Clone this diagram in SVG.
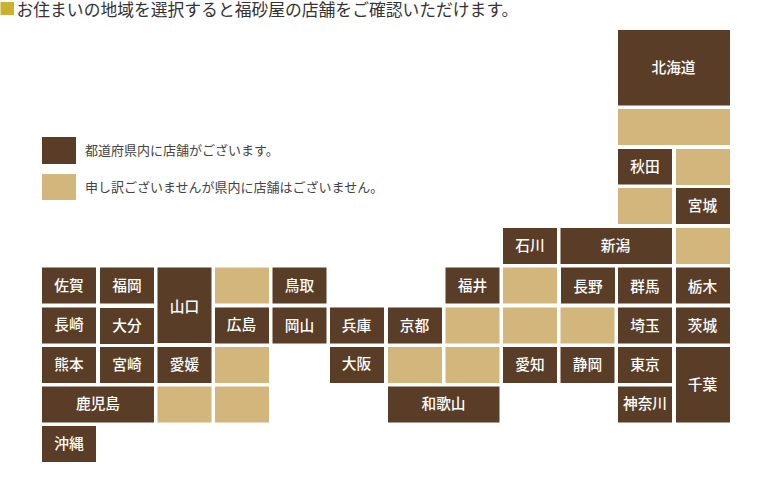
<svg xmlns="http://www.w3.org/2000/svg" width="760" height="480" viewBox="0 0 760 480">
<style>
.b{fill:#5a3d26}
.t{fill:#d3b67c}
.l{font-family:"Noto Sans CJK JP","Liberation Sans",sans-serif;font-size:14.7px;font-weight:500;fill:#fff;text-anchor:middle}
.h{font-family:"Liberation Serif","Noto Sans CJK JP",serif;font-size:16.8px;fill:#333}
.g{font-family:"Liberation Serif","Noto Sans CJK JP",serif;font-size:13px;fill:#444}
</style>
<rect id="title-mark" x="0.500" y="2" width="13.500" height="13" fill="#c9b131"/>
<text class="h" x="16.500" y="15.500">お住まいの地域を選択すると福砂屋の店舗をご確認いただけます。</text>
<g id="legend">
<rect class="b" x="42" y="137" width="34" height="27"/>
<rect class="t" x="42" y="174" width="34" height="26"/>
<text class="g" x="85" y="155">都道府県内に店舗がございます。</text>
<text class="g" x="85" y="192">申し訳ございませんが県内に店舗はございません。</text>
</g>
<g id="hokkaido"><rect class="b" x="618" y="30" width="112" height="75.500"/><text class="l" x="673.500" y="73">北海道</text></g>
<g id="aomori"><rect class="t" x="618" y="109" width="112" height="36"/></g>
<g id="akita"><rect class="b" x="618" y="149" width="54" height="35.500"/><text class="l" x="645" y="172">秋田</text></g>
<g id="iwate"><rect class="t" x="676" y="149" width="54" height="36"/></g>
<g id="yamagata"><rect class="t" x="618" y="188" width="54" height="36"/></g>
<g id="miyagi"><rect class="b" x="676" y="188" width="54" height="36"/><text class="l" x="702.500" y="211">宮城</text></g>
<g id="ishikawa"><rect class="b" x="503" y="228" width="54" height="36"/><text class="l" x="530" y="251">石川</text></g>
<g id="niigata"><rect class="b" x="560.500" y="228" width="111.500" height="36"/><text class="l" x="615.500" y="250.500">新潟</text></g>
<g id="fukushima"><rect class="t" x="676" y="228" width="54" height="36"/></g>
<g id="saga"><rect class="b" x="42" y="267.500" width="54" height="36"/><text class="l" x="69" y="290.500">佐賀</text></g>
<g id="fukuoka"><rect class="b" x="100" y="267.500" width="54" height="36"/><text class="l" x="127" y="290.500">福岡</text></g>
<g id="yamaguchi"><rect class="b" x="157.500" y="267.500" width="54" height="75.500"/><text class="l" x="184.500" y="311.500">山口</text></g>
<g id="shimane"><rect class="t" x="215" y="267.500" width="54" height="36"/></g>
<g id="tottori"><rect class="b" x="272.500" y="267.500" width="54" height="36"/><text class="l" x="299.500" y="290.500">鳥取</text></g>
<g id="fukui"><rect class="b" x="445.500" y="267.500" width="54" height="36"/><text class="l" x="472.500" y="290.500">福井</text></g>
<g id="toyama"><rect class="t" x="503" y="267.500" width="54" height="36"/></g>
<g id="nagano"><rect class="b" x="561" y="267.500" width="54" height="36"/><text class="l" x="588" y="291.500">長野</text></g>
<g id="gunma"><rect class="b" x="618" y="267.500" width="54" height="36"/><text class="l" x="645" y="291.500">群馬</text></g>
<g id="tochigi"><rect class="b" x="676" y="267.500" width="54" height="36"/><text class="l" x="702.500" y="291.500">栃木</text></g>
<g id="nagasaki"><rect class="b" x="42" y="307.500" width="54" height="36"/><text class="l" x="69" y="330">長崎</text></g>
<g id="oita"><rect class="b" x="100" y="308" width="54" height="36"/><text class="l" x="127" y="331">大分</text></g>
<g id="hiroshima"><rect class="b" x="215" y="307.500" width="54" height="36"/><text class="l" x="241.500" y="330">広島</text></g>
<g id="okayama"><rect class="b" x="272.500" y="307.500" width="54" height="36"/><text class="l" x="299.500" y="330.500">岡山</text></g>
<g id="hyogo"><rect class="b" x="330" y="307.500" width="54" height="36"/><text class="l" x="356.500" y="331">兵庫</text></g>
<g id="kyoto"><rect class="b" x="388" y="307.500" width="54" height="36"/><text class="l" x="414.500" y="331">京都</text></g>
<g id="shiga"><rect class="t" x="445.500" y="307.500" width="54" height="36"/></g>
<g id="gifu"><rect class="t" x="503" y="307.500" width="54" height="36"/></g>
<g id="yamanashi"><rect class="t" x="560.500" y="307.500" width="54" height="36"/></g>
<g id="saitama"><rect class="b" x="618" y="307.500" width="54" height="36"/><text class="l" x="645" y="331">埼玉</text></g>
<g id="ibaraki"><rect class="b" x="676" y="307.500" width="54" height="36"/><text class="l" x="702.500" y="331">茨城</text></g>
<g id="kumamoto"><rect class="b" x="42" y="347" width="54" height="36"/><text class="l" x="69" y="369.500">熊本</text></g>
<g id="miyazaki"><rect class="b" x="100" y="347" width="54" height="36"/><text class="l" x="127" y="370">宮崎</text></g>
<g id="ehime"><rect class="b" x="157.500" y="347" width="54" height="36"/><text class="l" x="184.500" y="370">愛媛</text></g>
<g id="kagawa"><rect class="t" x="215" y="347" width="54" height="36"/></g>
<g id="osaka"><rect class="b" x="330" y="347" width="54" height="36"/><text class="l" x="356.500" y="369">大阪</text></g>
<g id="nara"><rect class="t" x="388" y="347" width="54" height="36"/></g>
<g id="mie"><rect class="t" x="445.500" y="347" width="54" height="36"/></g>
<g id="aichi"><rect class="b" x="503" y="347" width="54" height="36"/><text class="l" x="530" y="370">愛知</text></g>
<g id="shizuoka"><rect class="b" x="560.500" y="347" width="54" height="36"/><text class="l" x="587.500" y="370">静岡</text></g>
<g id="tokyo"><rect class="b" x="618" y="347" width="54" height="36"/><text class="l" x="645" y="369.500">東京</text></g>
<g id="chiba"><rect class="b" x="676" y="347" width="54" height="75.500"/><text class="l" x="702.500" y="389.500">千葉</text></g>
<g id="kagoshima"><rect class="b" x="42" y="386.500" width="112" height="36"/><text class="l" x="98" y="408.500">鹿児島</text></g>
<g id="kochi"><rect class="t" x="157.500" y="386.500" width="54" height="36"/></g>
<g id="tokushima"><rect class="t" x="215" y="386.500" width="54" height="36"/></g>
<g id="wakayama"><rect class="b" x="388" y="386.500" width="111.500" height="36"/><text class="l" x="443.500" y="409">和歌山</text></g>
<g id="kanagawa"><rect class="b" x="618" y="386.500" width="54" height="36"/><text class="l" x="645" y="408.500">神奈川</text></g>
<g id="okinawa"><rect class="b" x="42" y="426" width="54" height="36"/><text class="l" x="69" y="448.500">沖縄</text></g>
</svg>
